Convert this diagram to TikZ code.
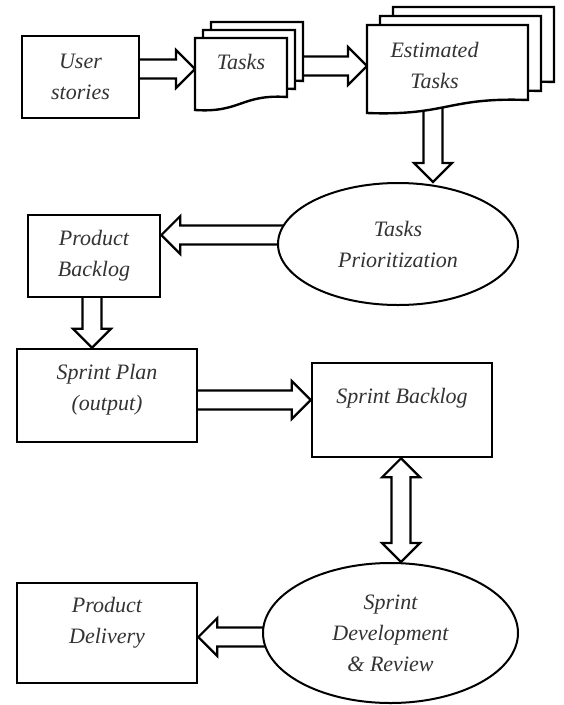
\documentclass[tikz,border=0pt]{standalone}
\usepackage{fontspec}
\setmainfont{Liberation Serif}
\usetikzlibrary{calc,shapes.geometric,backgrounds}
\def\docpage(#1,#2)(#3,#4){\draw[page] (#1,#2) -- (#3,#2) -- (#3,#4-13) .. controls ({(#1+#3)/2},#4-16) and ({(#1+#3)/2},#4+3) .. (#1,#4) -- cycle;}
\tikzset{
  hfat/.style={to path={let \p1=(\tikztostart), \p2=(\tikztotarget), \p3=($(\tikztotarget)!19pt!(\tikztostart)$) in
    (\x1,\y1+9.5pt) -- (\x3,\y1+9.5pt) -- (\x3,\y1+19pt) -- (\x2,\y1) -- (\x3,\y1-19pt) -- (\x3,\y1-9.5pt) -- (\x1,\y1-9.5pt) -- cycle}},
  vfat/.style={to path={let \p1=(\tikztostart), \p2=(\tikztotarget), \p3=($(\tikztotarget)!19pt!(\tikztostart)$) in
    (\x1+9.5pt,\y1) -- (\x1+9.5pt,\y3) -- (\x1+19pt,\y3) -- (\x1,\y2) -- (\x1-19pt,\y3) -- (\x1-9.5pt,\y3) -- (\x1-9.5pt,\y1) -- cycle}},
  vfatboth/.style={to path={let \p1=(\tikztostart), \p2=(\tikztotarget), \p3=($(\tikztotarget)!19pt!(\tikztostart)$), \p4=($(\tikztostart)!19pt!(\tikztotarget)$) in
    (\x1,\y1) -- (\x1+19pt,\y4) -- (\x1+9.5pt,\y4) -- (\x1+9.5pt,\y3) -- (\x1+19pt,\y3) -- (\x1,\y2)
    -- (\x1-19pt,\y3) -- (\x1-9.5pt,\y3) -- (\x1-9.5pt,\y4) -- (\x1-19pt,\y4) -- cycle}}
}
\begin{document}
\begin{tikzpicture}[x=1pt,y=-1pt,
  txt/.style={align=center, font={\fontsize{22}{31}\selectfont\itshape}, text=black!80},
  box/.style={draw, line width=2.6pt, fill=white, inner sep=0pt},
  oval/.style={ellipse, draw, line width=2pt, fill=white, inner sep=0pt, txt},
  docframe/.style={inner sep=0pt, outer sep=0pt},
  page/.style={draw, line width=2.4pt, fill=white, line join=miter},
  fat/.style={draw, fill=white, line width=2.2pt, line join=miter}]
  \useasboundingbox (0,0) rectangle (564,705);

  % top row
  \node[box, txt, minimum width=117, minimum height=82] (us) at (80.5,77) {User\\stories};
  \node[docframe, minimum width=92, minimum height=72] (tasks) at (241,74) {};
  \node[docframe, minimum width=161, minimum height=88] (est) at (447.5,69) {};
  \foreach \k in {2,1,0} {\docpage({195+8*\k},{38-8*\k})({287+8*\k},{110-8*\k})}
  \foreach \k in {2,1,0} {\docpage({367+13*\k},{25-9*\k})({528+13*\k},{113-9*\k})}
  \node[txt] (taskslbl) at ([yshift=12pt]tasks.center) {Tasks};
  \node[txt] (estlbl) at ([shift={(-13pt,4pt)}]est.center) {Estimated\\Tasks};

  % middle
  \node[oval, minimum width=240, minimum height=122] (tp) at (398,244) {Tasks\\Prioritization};
  \node[box, txt, minimum width=132, minimum height=82] (pb) at (94,256) {Product\\Backlog};
  \node[box, minimum width=180, minimum height=93] (sp) at (107,395.5) {};
  \node[txt] (splbl) at ([yshift=6pt]sp.center) {Sprint Plan\\(output)};
  \node[box, minimum width=180, minimum height=94] (sb) at (402,410) {};
  \node[txt] (sblbl) at ([yshift=12pt]sb.center) {Sprint Backlog};

  % bottom
  \node[oval, minimum width=255, minimum height=140] (sdr) at (390.5,633) {Sprint\\Development\\\& Review};
  \node[box, minimum width=180, minimum height=100] (pd) at (107,633) {};
  \node[txt] (pdlbl) at ([yshift=10pt]pd.center) {Product\\Delivery};

  % block arrows
  \begin{scope}[on background layer]
    \draw[fat, hfat] ([yshift=8pt]us.center) to ([yshift=8pt]us.center -| tasks.west);
    \draw[fat, hfat] ([yshift=8pt]tasks.center) to ([yshift=8pt]tasks.center -| est.west);
    \draw[fat, vfat] ([xshift=-14.5pt]est.center) to ([xshift=-14.5pt]est.center |- tp.north);
    \draw[fat, hfat] ([yshift=9pt]tp.center) to ([yshift=9pt]tp.center -| pb.east);
    \draw[fat, vfat] ([xshift=-2pt]pb.center) to ([xshift=-2pt]pb.center |- sp.north);
    \draw[fat, hfat] ([yshift=-4.5pt]sp.center) to ([yshift=-4.5pt]sp.center -| sb.west);
    \draw[fat, vfatboth] ([xshift=-1pt]sb.south) to ([xshift=-1pt]sb.south |- sdr.north);
    \draw[fat, hfat] ([yshift=-4pt]sdr.center) to ([yshift=-4pt]sdr.center -| pd.east);
  \end{scope}
\end{tikzpicture}
\end{document}
